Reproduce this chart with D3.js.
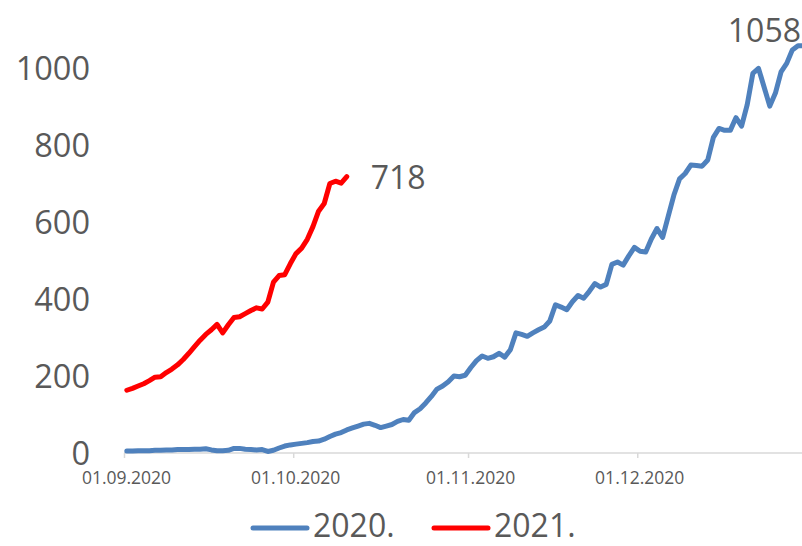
<!DOCTYPE html>
<html>
<head>
<meta charset="utf-8">
<script src="https://cdn.jsdelivr.net/npm/d3@7"></script>
<style>
  html, body { margin: 0; padding: 0; background: #ffffff; }
  svg { display: block; }
  text { font-family: "Open Sans", "Noto Sans", sans-serif; fill: #595959; }
</style>
</head>
<body>
<svg id="chart" width="802" height="546"></svg>
<script>
// Daily counts, one value per day starting 1 September
const seriesStart = "2020-09-01";
const values2020 = [
  5, 5, 6, 6, 6, 7, 7, 8, 8, 9,
  9, 9, 10, 10, 11, 8, 6, 6, 7, 12,
  12, 10, 9, 8, 9, 4, 7, 13, 18, 21,
  23, 25, 27, 30, 31, 36, 43, 49, 53, 60,
  65, 70, 75, 77, 72, 66, 70, 74, 82, 87,
  85, 105, 115, 130, 147, 166, 174, 185, 200, 198,
  202, 222, 240, 252, 246, 250, 259, 249, 268, 312,
  308, 303, 312, 320, 327, 343, 385, 379, 372, 393,
  409, 402, 420, 440, 431, 438, 490, 496, 488, 512,
  534, 524, 522, 556, 583, 560, 615, 670, 712, 726,
  748, 747, 745, 761, 820, 843, 838, 838, 871, 849,
  905, 986, 999, 950, 901, 935, 990, 1012, 1047, 1058,
  1058
];
const values2021 = [
  163, 168, 174, 180, 188, 197, 198, 209, 218, 229,
  243, 259, 276, 293, 308, 320, 334, 312, 333, 352,
  354, 362, 370, 377, 374, 392, 444, 461, 463, 492,
  518, 532, 555, 588, 628, 648, 700, 706, 701, 718
];
const seriesNames = ["2020.", "2021."];
const seriesColors = ["#4F81BD", "#FF0000"];
const yTicks = [0, 200, 400, 600, 800, 1000];
const tickLabels = ["01.09.2020", "01.10.2020", "01.11.2020", "01.12.2020"];

const parseDay = d3.timeParse("%d.%m.%Y");
const start = d3.timeParse("%Y-%m-%d")(seriesStart);
const tickDates = tickLabels.map(parseDay);

const svg = d3.select("#chart");

// Date axis: each day occupies one slot, points sit mid-slot
const x = d3.scaleTime()
  .domain([start, d3.timeDay.offset(start, 122)])
  .range([124, 124 + 122 * 5.64]);
const y = d3.scaleLinear().domain([0, 1000]).range([453, 68]);

const toPoints = vals => vals.map((v, i) => ({
  date: d3.timeHour.offset(d3.timeDay.offset(start, i), 12),
  value: v
}));
const data2020 = toPoints(values2020);
const data2021 = toPoints(values2021);

// Y axis labels (no axis line)
svg.append("g").selectAll("text")
  .data(yTicks)
  .join("text")
  .attr("x", 90)
  .attr("y", d => y(d))
  .attr("dy", "0.36em")
  .attr("text-anchor", "end")
  .style("font-size", "32.5px")
  .text(d => d);

// X axis
const xAxis = d3.axisBottom(x)
  .tickValues(tickDates)
  .tickFormat((d, i) => tickLabels[i])
  .tickSize(5)
  .tickPadding(14);
const gx = svg.append("g")
  .attr("transform", `translate(0,${y(0)})`)
  .call(xAxis);
gx.select(".domain").remove();
gx.append("line")
  .attr("x1", 124).attr("x2", 802)
  .attr("stroke", "#D9D9D9").attr("stroke-width", 1.5);
gx.selectAll(".tick line").attr("stroke", "#D9D9D9").attr("stroke-width", 1.5);
gx.selectAll(".tick text")
  .attr("fill", "#595959")
  .style("font-family", "\"Open Sans\", \"Noto Sans\", sans-serif")
  .style("font-size", "17.5px")
  .attr("dx", "2");

// Lines
const line = d3.line().x(d => x(d.date)).y(d => y(d.value));
[data2020, data2021].forEach((data, k) => {
  svg.append("path")
    .datum(data)
    .attr("fill", "none")
    .attr("stroke", seriesColors[k])
    .attr("stroke-width", 5)
    .attr("stroke-linejoin", "round")
    .attr("stroke-linecap", "round")
    .attr("d", line);
});

// Value labels on the last points
const last2021 = data2021[data2021.length - 1];
svg.append("text")
  .attr("x", x(last2021.date) + 24)
  .attr("y", y(last2021.value) + 12)
  .style("font-size", "32px")
  .text(last2021.value);

const last2020 = data2020[data2020.length - 1];
svg.append("text")
  .attr("x", 801)
  .attr("y", y(last2020.value) - 4)
  .attr("text-anchor", "end")
  .style("font-size", "32px")
  .text(last2020.value);

// Legend
const legend = [
  { name: seriesNames[0], color: seriesColors[0], x: 253 },
  { name: seriesNames[1], color: seriesColors[1], x: 434 }
];
const lg = svg.append("g");
legend.forEach(l => {
  lg.append("line")
    .attr("x1", l.x).attr("x2", l.x + 54)
    .attr("y1", 528).attr("y2", 528)
    .attr("stroke", l.color)
    .attr("stroke-width", 5)
    .attr("stroke-linecap", "round");
  lg.append("text")
    .attr("x", l.x + 60)
    .attr("y", 537)
    .style("font-size", "32px")
    .text(l.name);
});
</script>
</body>
</html>
